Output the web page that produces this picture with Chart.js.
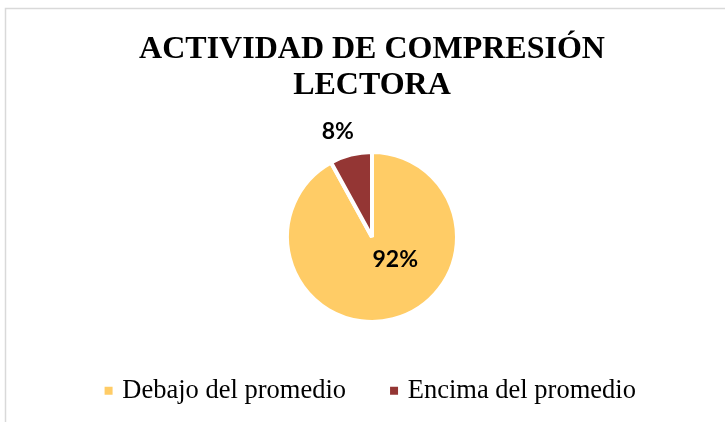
<!DOCTYPE html>
<html>
<head>
<meta charset="utf-8">
<script src="https://cdn.jsdelivr.net/npm/chart.js"></script>
<style>
  html, body { margin: 0; padding: 0; background: #fff; }
  #wrap { width: 725px; height: 422px; }
</style>
</head>
<body>
<div id="wrap"><canvas id="myChart" width="725" height="422"></canvas></div>
<script>
// data
const categorias = ['Debajo del promedio', 'Encima del promedio'];
const porcentajes = [92, 8];
const colores = ['#FFCC66', '#943634'];
const titulo = ['ACTIVIDAD DE COMPRESIÓN', 'LECTORA'];

// where each % label sits: angle from 12 o'clock (clockwise, deg) and distance as part of the radius
const posEtiqueta = [{ angle: 134, dist: 0.38 }, { angle: 342, dist: 1.30 }];

const serif = '"Liberation Serif", "Times New Roman", serif';

// light grey frame line on the left and top (chart border, cropped)
const marco = {
    id: 'marco',
    beforeDraw(chart) {
        const ctx = chart.ctx;
        ctx.save();
        ctx.strokeStyle = '#d9d9d9';
        ctx.lineWidth = 1.5;
        ctx.beginPath();
        ctx.moveTo(5.5, chart.height);
        ctx.lineTo(5.5, 8.5);
        ctx.lineTo(chart.width, 8.5);
        ctx.stroke();
        ctx.restore();
    }
};

// percentage labels
const etiquetas = {
    id: 'etiquetas',
    afterDatasetsDraw(chart) {
        const meta = chart.getDatasetMeta(0);
        const values = chart.data.datasets[0].data;
        const total = values.reduce((a, b) => a + b, 0);
        const ctx = chart.ctx;
        ctx.save();
        ctx.font = 'bold 23px Lato, "Open Sans", sans-serif';
        ctx.fillStyle = '#000';
        ctx.textAlign = 'center';
        ctx.textBaseline = 'middle';
        meta.data.forEach((arc, i) => {
            const p = posEtiqueta[i];
            const a = (p.angle - 90) * Math.PI / 180;
            const r = arc.outerRadius * p.dist;
            const txt = Math.round(values[i] / total * 100) + '%';
            ctx.fillText(txt, arc.x + Math.cos(a) * r, arc.y + Math.sin(a) * r);
        });
        ctx.restore();
    }
};

const ctx = document.getElementById('myChart').getContext('2d');
const chart = new Chart(ctx, {
    type: 'pie',
    data: {
        labels: categorias,
        datasets: [{
            data: porcentajes,
            backgroundColor: colores,
            borderColor: '#ffffff',
            borderWidth: 4,
            radius: 85
        }]
    },
    options: {
        responsive: false,
        animation: false,
        layout: { padding: { left: 19, right: 0, top: 0, bottom: 8 } },
        plugins: {
            title: {
                display: true,
                text: titulo,
                color: '#000',
                font: { family: serif, size: 32, weight: 'bold', lineHeight: 1.14 },
                padding: { top: 31, bottom: 40 }
            },
            legend: {
                position: 'bottom',
                labels: {
                    usePointStyle: true,
                    pointStyle: 'rect',
                    boxWidth: 1,
                    boxHeight: 8,
                    padding: 47.5,
                    color: '#000',
                    font: { family: serif, size: 26.5 },
                    generateLabels(chart) {
                        const items = Chart.overrides.doughnut.plugins.legend.labels.generateLabels(chart);
                        items.forEach(it => { it.lineWidth = 0; });
                        return items;
                    }
                }
            },
            tooltip: { enabled: false }
        }
    },
    plugins: [marco, etiquetas]
});
</script>
</body>
</html>
